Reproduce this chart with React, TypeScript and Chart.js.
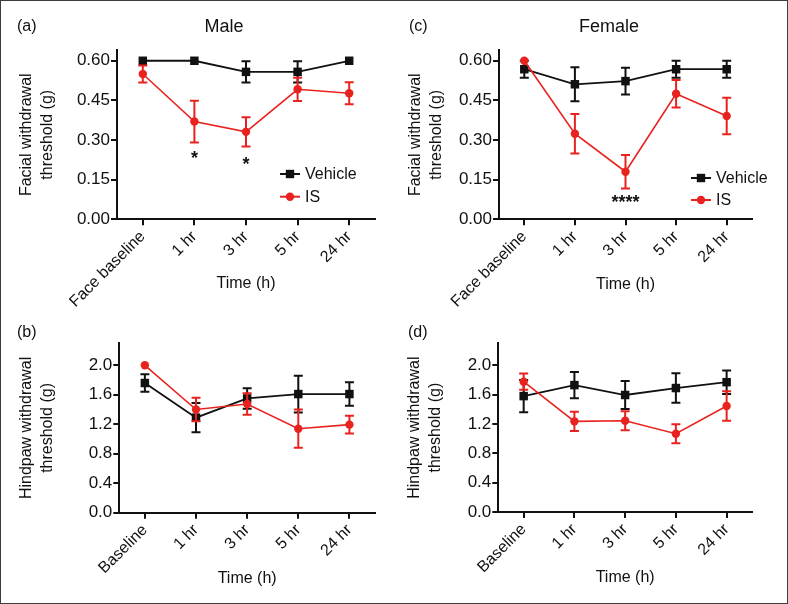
import React, { useEffect, useRef } from 'react';
import { Chart, registerables } from 'chart.js';

Chart.register(...registerables);

const FONT = '"Liberation Sans", Arial, Helvetica, sans-serif';
const RED = '#e8231f';
const BLACK = '#111111';

// ---------- categories & ticks ----------
const faceLabels = ['Face baseline', '1 hr', '3 hr', '5 hr', '24 hr'];
const pawLabels = ['Baseline', '1 hr', '3 hr', '5 hr', '24 hr'];
const facialTicks = [0, 0.15, 0.3, 0.45, 0.6];
const facialTickLabels = ['0.00', '0.15', '0.30', '0.45', '0.60'];
const pawTicks = [0, 0.4, 0.8, 1.2, 1.6, 2.0];
const pawTickLabels = ['0.0', '0.4', '0.8', '1.2', '1.6', '2.0'];

// ---------- (a) Male facial ----------
const maleFaceVehicle = [0.6, 0.6, 0.558, 0.558, 0.6];
const maleFaceVehicleErr = [0, 0, 0.04, 0.04, 0];
const maleFaceIS = [0.55, 0.37, 0.331, 0.492, 0.477];
const maleFaceISErr = [0.032, 0.079, 0.055, 0.044, 0.042];

// ---------- (b) Male hindpaw ----------
const malePawVehicle = [1.76, 1.29, 1.55, 1.61, 1.61];
const malePawVehicleErr = [0.12, 0.2, 0.14, 0.25, 0.16];
const malePawIS = [2.0, 1.4, 1.475, 1.14, 1.195];
const malePawISErr = [0, 0.16, 0.145, 0.26, 0.12];

// ---------- (c) Female facial ----------
const femaleFaceVehicle = [0.568, 0.511, 0.523, 0.568, 0.568];
const femaleFaceVehicleErr = [0.032, 0.064, 0.051, 0.032, 0.032];
const femaleFaceIS = [0.6, 0.324, 0.18, 0.475, 0.391];
const femaleFaceISErr = [0, 0.075, 0.063, 0.052, 0.069];

// ---------- (d) Female hindpaw ----------
const femalePawVehicle = [1.58, 1.73, 1.595, 1.69, 1.77];
const femalePawVehicleErr = [0.22, 0.18, 0.19, 0.2, 0.16];
const femalePawIS = [1.777, 1.236, 1.245, 1.068, 1.445];
const femalePawISErr = [0.11, 0.13, 0.13, 0.13, 0.2];

// ---------- significance marks ----------
const maleFaceStars = [
  { index: 1, value: 0.247, text: '*' },
  { index: 2, value: 0.227, text: '*' },
];
const femaleFaceStars = [{ index: 2, value: 0.083, text: '****' }];

const seriesNames = ['Vehicle', 'IS'];

// ---------- plugins ----------
const errorBarPlugin = {
  id: 'errorBars',
  beforeDatasetDraw(chart: any, args: any) {
    const ds: any = chart.data.datasets[args.index];
    const errs: number[] | undefined = ds.errors;
    if (!errs) return;
    const meta = chart.getDatasetMeta(args.index);
    const y = chart.scales.y;
    const ctx = chart.ctx;
    ctx.save();
    ctx.strokeStyle = ds.borderColor;
    ctx.lineWidth = 2;
    ctx.lineCap = 'butt';
    const cap = 4.5;
    errs.forEach((e, i) => {
      if (!e) return;
      const v = ds.data[i];
      const px = meta.data[i].x;
      const yt = y.getPixelForValue(v + e);
      const yb = y.getPixelForValue(v - e);
      ctx.beginPath();
      ctx.moveTo(px, yt);
      ctx.lineTo(px, yb);
      ctx.moveTo(px - cap, yt);
      ctx.lineTo(px + cap, yt);
      ctx.moveTo(px - cap, yb);
      ctx.lineTo(px + cap, yb);
      ctx.stroke();
    });
    ctx.restore();
  },
};

const decorPlugin = {
  id: 'decor',
  afterDraw(chart: any, _args: any, opts: any) {
    const ctx = chart.ctx;
    ctx.save();
    ctx.fillStyle = BLACK;
    ctx.textBaseline = 'middle';
    if (opts.letter) {
      ctx.font = `16px ${FONT}`;
      ctx.textAlign = 'left';
      ctx.fillText(opts.letter, opts.letterPos[0], opts.letterPos[1]);
    }
    if (opts.title) {
      ctx.font = `18px ${FONT}`;
      ctx.textAlign = 'center';
      ctx.fillText(opts.title, opts.titlePos[0], opts.titlePos[1]);
    }
    if (opts.legend) {
      const { x, ys } = opts.legend;
      chart.data.datasets.forEach((ds: any, k: number) => {
        const yy = ys[k];
        ctx.strokeStyle = ds.borderColor;
        ctx.fillStyle = ds.borderColor;
        ctx.lineWidth = 2;
        ctx.beginPath();
        ctx.moveTo(x, yy);
        ctx.lineTo(x + 20, yy);
        ctx.stroke();
        ctx.beginPath();
        if (ds.pointStyle === 'rect') {
          ctx.rect(x + 10 - 4.2, yy - 4.2, 8.4, 8.4);
        } else {
          ctx.arc(x + 10, yy, 4.2, 0, Math.PI * 2);
        }
        ctx.fill();
        ctx.fillStyle = BLACK;
        ctx.font = `16px ${FONT}`;
        ctx.textAlign = 'left';
        ctx.fillText(ds.label, x + 25, yy + 0.5);
      });
    }
    if (opts.stars) {
      const size = 18;
      ctx.font = `bold ${size}px ${FONT}`;
      ctx.textAlign = 'center';
      ctx.textBaseline = 'alphabetic';
      ctx.fillStyle = BLACK;
      opts.stars.forEach((s: any) => {
        const px = chart.scales.x.getPixelForValue(s.index);
        const py = chart.scales.y.getPixelForValue(s.value);
        ctx.fillText(s.text, px, py + size * 0.57);
      });
    }
    ctx.restore();
  },
};

// ---------- panel layout ----------
type PanelDef = {
  key: string;
  left: number;
  top: number;
  width: number;
  height: number;
  labels: string[];
  ticks: number[];
  tickLabels: string[];
  yMax: number;
  yTitle: string[];
  yTitlePad: number;
  yWidth: number;
  padTop: number;
  padRight: number;
  xHeight: number;
  xTitlePad: number;
  vehicle: number[];
  vehicleErr: number[];
  is: number[];
  isErr: number[];
  letter: string;
  letterPos: number[];
  title?: string;
  titlePos?: number[];
  legend?: { x: number; ys: number[] };
  stars?: any[];
};

const panels: PanelDef[] = [
  {
    key: 'a', left: 0, top: 0, width: 394, height: 320,
    labels: faceLabels, ticks: facialTicks, tickLabels: facialTickLabels, yMax: 0.64,
    yTitle: ['Facial withdrawal', 'threshold (g)'], yTitlePad: 16.6,
    yWidth: 117, padTop: 50.2, padRight: 19, xHeight: 100.7, xTitlePad: 26.4,
    vehicle: maleFaceVehicle, vehicleErr: maleFaceVehicleErr, is: maleFaceIS, isErr: maleFaceISErr,
    letter: '(a)', letterPos: [17, 27], title: 'Male', titlePos: [224, 27],
    legend: { x: 280, ys: [174, 196.7] }, stars: maleFaceStars,
  },
  {
    key: 'c', left: 394, top: 0, width: 394, height: 320,
    labels: faceLabels, ticks: facialTicks, tickLabels: facialTickLabels, yMax: 0.64,
    yTitle: ['Facial withdrawal', 'threshold (g)'], yTitlePad: 11.3,
    yWidth: 105, padTop: 50.2, padRight: 36, xHeight: 100.7, xTitlePad: 26.1,
    vehicle: femaleFaceVehicle, vehicleErr: femaleFaceVehicleErr, is: femaleFaceIS, isErr: femaleFaceISErr,
    letter: '(c)', letterPos: [15, 27], title: 'Female', titlePos: [215, 27],
    legend: { x: 297, ys: [178, 200] }, stars: femaleFaceStars,
  },
  {
    key: 'b', left: 0, top: 300, width: 394, height: 304,
    labels: pawLabels, ticks: pawTicks, tickLabels: pawTickLabels, yMax: 2.3,
    yTitle: ['Hindpaw withdrawal', 'threshold (g)'], yTitlePad: 16.3,
    yWidth: 119.3, padTop: 43.2, padRight: 19, xHeight: 91.3, xTitlePad: 15.7,
    vehicle: malePawVehicle, vehicleErr: malePawVehicleErr, is: malePawIS, isErr: malePawISErr,
    letter: '(b)', letterPos: [17, 33],
  },
  {
    key: 'd', left: 394, top: 300, width: 394, height: 304,
    labels: pawLabels, ticks: pawTicks, tickLabels: pawTickLabels, yMax: 2.3,
    yTitle: ['Hindpaw withdrawal', 'threshold (g)'], yTitlePad: 10.3,
    yWidth: 104.3, padTop: 43.3, padRight: 36, xHeight: 92, xTitlePad: 16.7,
    vehicle: femalePawVehicle, vehicleErr: femalePawVehicleErr, is: femalePawIS, isErr: femalePawISErr,
    letter: '(d)', letterPos: [14, 33],
  },
];

function buildConfig(p: PanelDef): any {
  return {
    type: 'line',
    data: {
      labels: p.labels,
      datasets: [
        {
          label: seriesNames[0],
          data: p.vehicle,
          errors: p.vehicleErr,
          borderColor: BLACK,
          backgroundColor: BLACK,
          borderWidth: 1.8,
          pointStyle: 'rect',
          pointRadius: 6,
          pointBorderWidth: 0,
          order: 1,
          clip: false,
        },
        {
          label: seriesNames[1],
          data: p.is,
          errors: p.isErr,
          borderColor: RED,
          backgroundColor: RED,
          borderWidth: 1.6,
          pointStyle: 'circle',
          pointRadius: 4.2,
          pointBorderWidth: 0,
          order: 0,
          clip: false,
        },
      ],
    },
    options: {
      responsive: false,
      animation: false,
      devicePixelRatio: 1,
      layout: { padding: { left: 0, top: p.padTop, right: p.padRight, bottom: 0 } },
      plugins: {
        legend: { display: false },
        tooltip: { enabled: false },
        decor: {
          letter: p.letter,
          letterPos: p.letterPos,
          title: p.title,
          titlePos: p.titlePos,
          legend: p.legend,
          stars: p.stars,
        },
      },
      scales: {
        x: {
          type: 'category',
          offset: true,
          afterFit: (s: any) => {
            s.height = p.xHeight;
          },
          grid: {
            display: true,
            drawOnChartArea: false,
            drawTicks: true,
            tickLength: 6,
            lineWidth: 2,
            color: BLACK,
            offset: false,
          },
          border: { display: true, color: BLACK, width: 2 },
          ticks: {
            color: BLACK,
            font: { family: FONT, size: 16 },
            minRotation: 45,
            maxRotation: 45,
            autoSkip: false,
            padding: 2,
          },
          title: {
            display: true,
            text: 'Time (h)',
            color: BLACK,
            font: { family: FONT, size: 16, lineHeight: 1.2 },
            padding: { top: 0, bottom: p.xTitlePad },
          },
        },
        y: {
          type: 'linear',
          min: 0,
          max: p.yMax,
          afterFit: (s: any) => {
            s.width = p.yWidth;
          },
          afterBuildTicks: (s: any) => {
            s.ticks = p.ticks.map((v) => ({ value: v }));
          },
          grid: {
            display: true,
            drawOnChartArea: false,
            drawTicks: true,
            tickLength: 6,
            lineWidth: 2,
            color: BLACK,
          },
          border: { display: true, color: BLACK, width: 2 },
          ticks: {
            color: BLACK,
            font: { family: FONT, size: 17 },
            padding: 1,
            callback: (_v: any, i: number) => p.tickLabels[i],
          },
          title: {
            display: true,
            text: p.yTitle,
            color: BLACK,
            font: { family: FONT, size: 16, lineHeight: 1.3 },
            padding: { top: p.yTitlePad, bottom: 0 },
          },
        },
      },
    },
    plugins: [errorBarPlugin, decorPlugin],
  };
}

function PanelChart({ p }: { p: PanelDef }) {
  const ref = useRef<HTMLCanvasElement | null>(null);
  useEffect(() => {
    if (!ref.current) return;
    const chart = new Chart(ref.current, buildConfig(p));
    return () => chart.destroy();
  }, [p]);
  return (
    <canvas
      ref={ref}
      width={p.width}
      height={p.height}
      style={{ position: 'absolute', left: p.left, top: p.top, width: p.width, height: p.height }}
    />
  );
}

export default function App() {
  return (
    <div style={{ position: 'absolute', left: 0, top: 0, width: 788, height: 604, background: '#fff', overflow: 'hidden' }}>
      {panels.map((p) => (
        <PanelChart key={p.key} p={p} />
      ))}
      <div
        style={{
          position: 'absolute',
          left: 0,
          top: 0,
          width: 788,
          height: 604,
          boxSizing: 'border-box',
          border: '1px solid #3c3c3c',
          pointerEvents: 'none',
        }}
      />
    </div>
  );
}
